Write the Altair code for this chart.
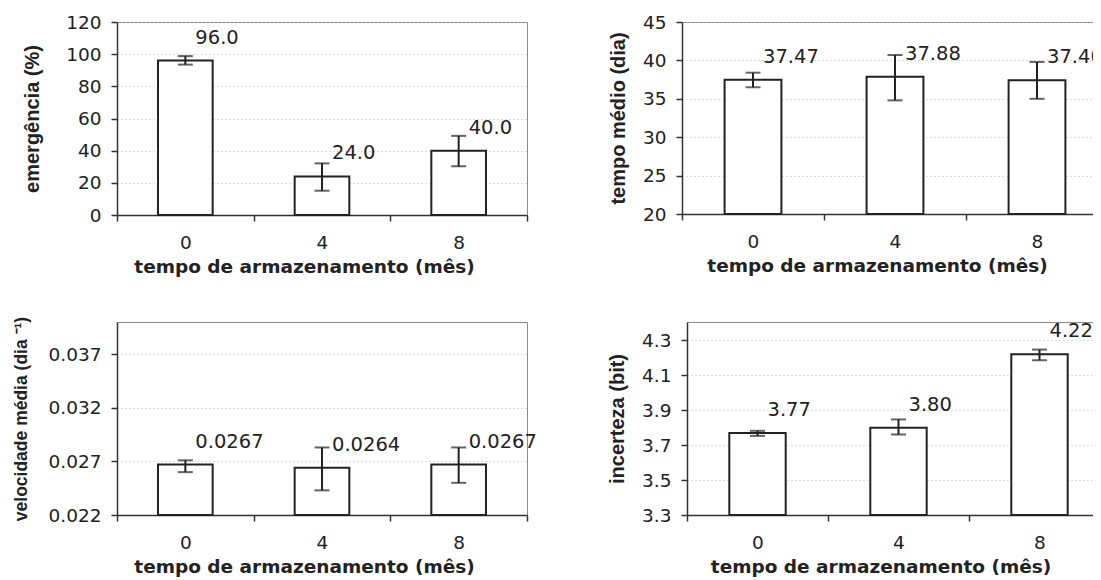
import altair as alt
import pandas as pd

months = ["0", "4", "8"]

emerg = [96.0, 24.0, 40.0]
emerg_lo = [93.5, 15.1, 30.3]
emerg_hi = [98.8, 32.1, 49.2]

tempo = [37.47, 37.88, 37.40]
tempo_lo = [36.5, 34.8, 35.0]
tempo_hi = [38.4, 40.7, 39.8]

veloc = [0.0267, 0.0264, 0.0267]
veloc_lo = [0.0260, 0.0243, 0.0250]
veloc_hi = [0.0271, 0.0283, 0.0283]

incert = [3.77, 3.80, 4.22]
incert_lo = [3.753, 3.761, 4.186]
incert_hi = [3.782, 3.847, 4.247]

XTITLE = "tempo de armazenamento (mês)"
INK = "#222222"


def panel(vals, lo, hi, fmt, ytitle, domain, ticks, w, h, tfs=20, tpad=14):
    df = pd.DataFrame({"mes": months, "v": vals, "lo": lo, "hi": hi})
    xs = alt.Scale(paddingInner=0, paddingOuter=0)
    ys = alt.Scale(domain=domain, nice=False, zero=False)
    xax = alt.Axis(labelAngle=0, tickBand="extent", titleX=w / 2 - 18)
    yax = alt.Axis(values=ticks, titleFontSize=tfs, titlePadding=tpad)
    x = alt.X("mes:N", sort=months, scale=xs, title=XTITLE, axis=xax)

    def Y(f):
        return alt.Y(f, scale=ys, title=ytitle, axis=yax)

    base = alt.Chart(df)
    bars = base.mark_bar(fill="white", stroke=INK, strokeWidth=2,
                         width=alt.RelativeBandSize(0.4)).encode(
        x=x, y=Y("v:Q"), y2=alt.datum(domain[0]))
    rule = base.mark_rule(color=INK, strokeWidth=2).encode(
        x=x, y=Y("lo:Q"), y2="hi:Q")
    cap_lo = base.mark_tick(color=INK, size=15, thickness=2).encode(
        x=x, y=Y("lo:Q"))
    cap_hi = base.mark_tick(color=INK, size=15, thickness=2).encode(
        x=x, y=Y("hi:Q"))
    text = base.mark_text(align="left", baseline="middle", dx=10, dy=-23,
                          font="DejaVu Sans", fontSize=19.5, color=INK).encode(
        x=x, y=Y("v:Q"), text=alt.Text("v:Q", format=fmt))
    return alt.layer(bars, rule, cap_lo, cap_hi, text).properties(width=w, height=h)


tl = panel(emerg, emerg_lo, emerg_hi, ".1f", "emergência (%)",
           [0, 120], [0, 20, 40, 60, 80, 100, 120], 410, 193, tpad=23)
tr = panel(tempo, tempo_lo, tempo_hi, ".2f", "tempo médio (dia)",
           [20, 45], [20, 25, 30, 35, 40, 45], 426, 192)
bl = panel(veloc, veloc_lo, veloc_hi, ".4f", "velocidade média (dia ⁻¹)",
           [0.022, 0.040], [0.022, 0.027, 0.032, 0.037], 410, 193,
           tfs=17.5, tpad=18)
br = panel(incert, incert_lo, incert_hi, ".2f", "incerteza (bit)",
           [3.3, 4.405], [3.3, 3.5, 3.7, 3.9, 4.1, 4.3], 423, 193)

row1 = alt.hconcat(tl, tr, spacing=78)
row2 = alt.hconcat(bl, br, spacing=69)

chart = alt.vconcat(row1, row2, spacing=38).properties(
    padding={"left": 3, "top": 4, "right": -19, "bottom": 0}
).configure_view(
    stroke="#8a8a8a", strokeWidth=1
).configure_axis(
    domainColor="#333333", domainWidth=1.5, tickColor="#333333", tickWidth=1.5,
    tickSize=6, labelFont="DejaVu Sans", labelFontSize=18.5, labelColor=INK,
    titleColor=INK,
).configure_axisX(
    grid=False, labelPadding=12, titleFont="DejaVu Sans", titleFontSize=18.5,
    titleFontWeight="bold", titlePadding=6,
).configure_axisY(
    grid=True, gridColor="#bbbbbb", gridDash=[1, 3], gridWidth=1,
    labelPadding=10, titleFont="Liberation Sans", titleFontWeight="bold",
)

chart.save("out.html", embed_options={"renderer": "svg", "actions": False})
